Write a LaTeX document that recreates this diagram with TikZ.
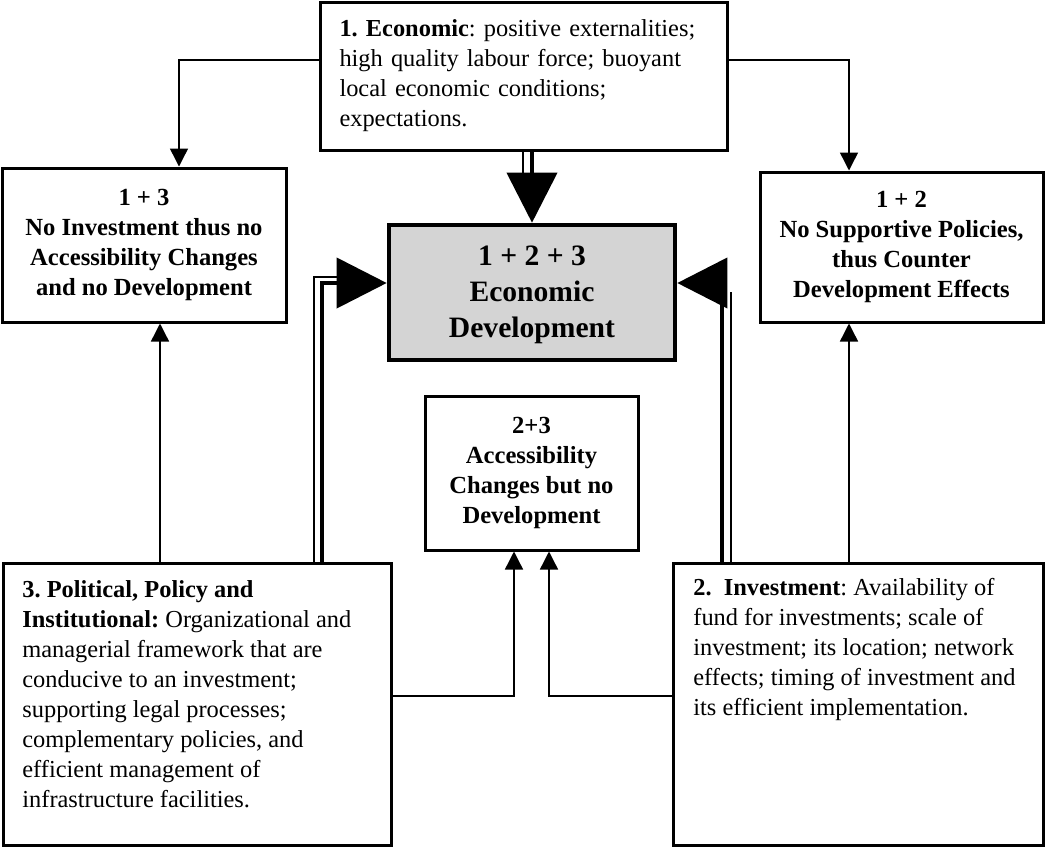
\documentclass[tikz,border=0pt]{standalone}
\usepackage{fontspec}
\setmainfont{Liberation Serif}
\usetikzlibrary{arrows.meta,calc}

\begin{document}
\begin{tikzpicture}[line join=miter,x=0.5pt,y=-0.5pt,
        box/.style={draw,line width=1.5pt,inner sep=0pt,fill=white},
        bodytext/.style={align=left,font=\fontsize{12.2}{15}\selectfont\frenchspacing},
        titletext/.style={align=center,font=\fontsize{12.3}{15}\selectfont\bfseries},
        thinarrow/.style={line width=0.7pt,-{Triangle[length=9pt,width=9pt]}},
        fatarrow/.style={line width=2pt,-{Triangle[length=25pt,width=25pt]}},
        rail/.style={line width=0.8pt}]
                \useasboundingbox (0,0) rectangle (1045,848);
                \node[box,bodytext,minimum width=203.5pt,minimum height=74pt,text width=184pt] (econ) at (523.5,76)
                    {\textbf{1. Economic}: positive externalities;\\ high quality labour force; buoyant\\ local economic conditions;\\ expectations.};
                \node[box,titletext,minimum width=142pt,minimum height=77pt] (noinv) at (144,245)
                    {1 + 3\\ No Investment thus no\\ Accessibility Changes\\ and no Development};
                \node[box,titletext,minimum width=141.5pt,minimum height=75pt] (nopol) at (901.5,247)
                    {1 + 2\\ No Supportive Policies,\\ thus Counter\\ Development Effects};
                \node[box,line width=2.3pt,fill=black!17,minimum width=143pt,minimum height=67.5pt] (devt) at (532,292.5) {};
                \node[align=center,font=\fontsize{14.8}{18}\selectfont\bfseries] (devttxt) at (532,295)
                    {1 + 2 + 3\\ Economic\\ Development};
                \node[box,titletext,minimum width=106.5pt,minimum height=77pt] (access) at (531.5,473)
                    {2+3\\ Accessibility\\ Changes but no\\ Development};
                \node[box,minimum width=194pt,minimum height=141pt] (polit) at (197,704) {};
                \node[bodytext,anchor=north west,inner sep=0pt] (polittxt) at (22,580)
                    {\textbf{3. Political, Policy and}\\ \textbf{Institutional:} Organizational and\\ managerial framework that are\\ conducive to an investment;\\ supporting legal processes;\\ complementary policies, and\\ efficient management of\\ infrastructure facilities.};
                \node[box,minimum width=185pt,minimum height=141pt] (invest) at (858,704) {};
                \node[bodytext,anchor=north west,inner sep=0pt] (investtxt) at (693,578)
                    {\textbf{2.\ \ Investment}: Availability of\\ fund for investments; scale of\\ investment; its location; network\\ effects; timing of investment and\\ its efficient implementation.};

                \coordinate (ecoL) at (179,60);
                \coordinate (ecoR) at (849,60);
                \coordinate (polV) at (160,0);
                \coordinate (accL) at (514,696);
                \coordinate (accR) at (549,696);
                \coordinate (fatL) at (322,283);
                \coordinate (railL) at (314,277);
                \coordinate (fatR) at (722,283);
                \coordinate (railR) at (731,292);

                \draw [thinarrow] (ecoL -| econ.west) -| (ecoL |- noinv.north);
                \draw [thinarrow] (ecoR -| econ.east) -| (ecoR |- nopol.north);
                \draw [thinarrow] (polV |- polit.north) -- (polV |- noinv.south);
                \draw [thinarrow] (ecoR |- invest.north) -- (ecoR |- nopol.south);
                \draw [thinarrow] (accL -| polit.east) -| (accL |- access.south);
                \draw [thinarrow] (accR -| invest.west) -| (accR |- access.south);

                \draw [fatarrow] (devt.north |- econ.south) -- (devt.north);
                \draw [rail] ($(devt.north |- econ.south)+(-9,0)$) -- ++(0,26);
                \draw [fatarrow] (fatL |- polit.north) -- (fatL) -- (fatL -| devt.west);
                \draw [rail] (railL |- polit.north) |- ($(railL -| devt.west)+(-50,0)$);
                \draw [fatarrow] (fatR |- invest.north) -- (fatR) -- (fatR -| devt.east);
                \draw [rail] (railR |- invest.north) -- (railR);
\end{tikzpicture}
\end{document}
